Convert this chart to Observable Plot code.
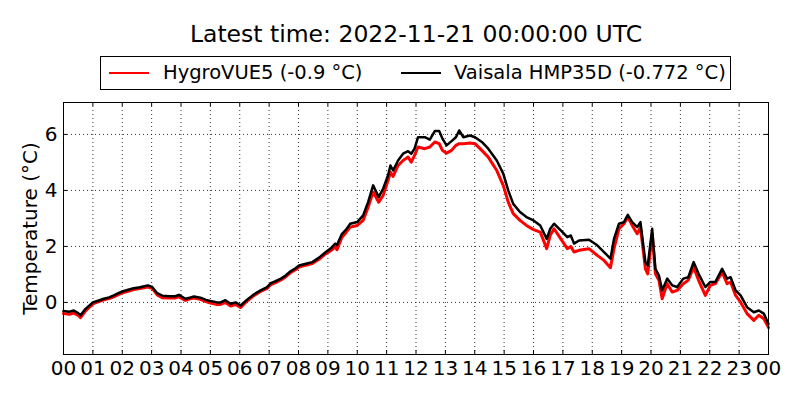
<!DOCTYPE html>
<html>
<head>
<meta charset="utf-8">
<script src="https://cdn.jsdelivr.net/npm/d3@7"></script>
<script src="https://cdn.jsdelivr.net/npm/@observablehq/plot@0.6"></script>
<style>
  html, body { margin: 0; padding: 0; background: #fff; }
  #wrap { position: relative; width: 800px; height: 400px; font-family: "DejaVu Sans", sans-serif; color: #000; overflow: hidden; }
  #title { position: absolute; left: 0; top: 20px; width: 832px; text-align: center; font-size: 23.5px; line-height: 28px; }
  #legend { position: absolute; left: 100px; top: 56px; width: 629px; height: 32px; border: 1px solid #000; box-sizing: content-box; font-size: 19.5px; }
  .entry { position: absolute; top: 0; height: 32px; line-height: 32px; white-space: nowrap; }
  .swatch { position: absolute; top: 15px; width: 40px; height: 0; }
  #chart { position: absolute; left: 0; top: 92px; }
</style>
</head>
<body>
<div id="wrap">
  <div id="title">Latest time: 2022-11-21 00:00:00 UTC</div>
  <div id="legend"></div>
  <div id="chart"></div>
</div>
<script>
// hours since 2022-11-20 00:00 UTC
const hours = [
  0.00,0.20,0.35,0.50,0.58,0.75,1.00,1.20,1.37,1.55,1.71,1.85,2.00,2.20,2.39,2.60,2.87,3.02,3.19,3.36,
  3.60,3.80,3.93,4.15,4.30,4.44,4.66,4.85,5.00,5.20,5.35,5.51,5.69,5.86,6.03,6.25,6.50,6.71,6.93,7.06,
  7.20,7.40,7.55,7.74,7.90,8.02,8.25,8.47,8.70,8.93,9.10,9.25,9.31,9.48,9.62,9.76,10.00,10.20,10.37,10.54,
  10.73,10.88,11.05,11.13,11.22,11.39,11.56,11.73,11.84,11.95,12.07,12.30,12.47,12.64,12.79,12.90,13.04,13.21,13.36,13.47,
  13.61,13.84,14.01,14.24,14.46,14.75,14.97,15.14,15.31,15.54,15.76,16.00,16.23,16.45,16.57,16.70,16.93,17.15,17.27,17.38,
  17.55,17.89,18.17,18.40,18.62,18.74,18.91,19.08,19.21,19.36,19.53,19.64,19.81,19.89,20.04,20.15,20.27,20.38,20.55,20.72,
  20.89,21.10,21.27,21.45,21.62,21.85,22.02,22.19,22.42,22.59,22.71,22.88,23.05,23.27,23.50,23.67,23.84,24.00
];
// Vaisala HMP35D (black)
const vaisala = [
  -0.31,-0.33,-0.29,-0.38,-0.46,-0.23,0.00,0.07,0.13,0.18,0.25,0.32,0.39,0.45,0.51,0.54,0.61,0.55,0.33,0.24,
  0.22,0.22,0.27,0.13,0.17,0.21,0.17,0.09,0.05,0.01,0.00,0.08,-0.05,0.00,-0.11,0.10,0.30,0.43,0.55,0.69,
  0.75,0.85,0.95,1.12,1.22,1.32,1.38,1.44,1.60,1.80,1.93,2.10,2.05,2.45,2.60,2.81,2.87,3.11,3.58,4.18,
  3.76,4.06,4.54,4.89,4.71,5.07,5.31,5.40,5.31,5.49,5.90,5.90,5.81,6.12,6.12,5.85,5.61,5.76,5.90,6.14,
  5.90,5.96,5.90,5.73,5.49,5.07,4.60,4.00,3.52,3.23,3.05,2.93,2.75,2.27,2.63,2.81,2.57,2.33,2.39,2.10,
  2.21,2.24,2.04,1.80,1.56,2.27,2.81,2.87,3.13,2.87,2.69,2.87,1.44,1.32,2.63,1.20,0.96,0.43,0.85,0.61,
  0.55,0.85,0.90,1.44,1.02,0.55,0.73,0.73,1.20,0.85,0.90,0.43,0.25,-0.17,-0.35,-0.29,-0.40,-0.77
];
// HygroVUE5 (red)
const hygro = [
  -0.40,-0.42,-0.38,-0.46,-0.54,-0.30,-0.05,0.03,0.09,0.14,0.20,0.27,0.34,0.40,0.46,0.50,0.55,0.50,0.27,0.17,
  0.16,0.16,0.20,0.07,0.13,0.16,0.11,0.03,-0.02,-0.07,-0.07,0.00,-0.13,-0.07,-0.18,0.05,0.26,0.39,0.50,0.64,
  0.70,0.80,0.90,1.07,1.17,1.26,1.33,1.39,1.54,1.74,1.85,1.98,1.88,2.33,2.50,2.69,2.75,2.93,3.40,3.94,
  3.58,3.82,4.36,4.65,4.50,4.89,5.07,5.19,5.01,5.25,5.55,5.49,5.55,5.73,5.67,5.43,5.33,5.43,5.61,5.67,
  5.67,5.69,5.67,5.43,5.19,4.71,4.18,3.58,3.17,2.93,2.75,2.60,2.51,1.92,2.40,2.63,2.27,1.92,2.00,1.80,
  1.86,1.92,1.68,1.50,1.24,1.92,2.63,2.81,3.05,2.75,2.45,2.69,1.20,1.02,2.45,1.02,0.79,0.13,0.67,0.37,
  0.43,0.67,0.79,1.26,0.79,0.25,0.61,0.67,1.08,0.67,0.73,0.25,0.01,-0.40,-0.64,-0.46,-0.58,-0.90
];
const xTicks = d3.range(0, 25);
const yTicks = [0, 2, 4, 6];
const seriesNames = ["HygroVUE5 (-0.9 °C)", "Vaisala HMP35D (-0.772 °C)"];
const seriesColors = ["#ff0000", "#000000"];
const yLabel = "Temperature (°C)";

const data = hours.map((h, i) => ({h, vaisala: vaisala[i], hygro: hygro[i]}));

// legend
const legend = document.getElementById("legend");
const entryPos = [{sw: 8, tx: 62}, {sw: 300, tx: 353}];
seriesNames.forEach((name, i) => {
  const sw = document.createElement("div");
  sw.className = "swatch";
  sw.style.left = entryPos[i].sw + "px";
  sw.style.borderTop = "2.5px solid " + seriesColors[i];
  legend.appendChild(sw);
  const t = document.createElement("div");
  t.className = "entry";
  t.style.left = entryPos[i].tx + "px";
  t.textContent = name;
  legend.appendChild(t);
});

const W = 800, H = 308, mT = 10, mB = 46, mL = 63, mR = 32;
const fw = W - mL - mR, fh = H - mT - mB;

const chart = Plot.plot({
  width: W, height: H,
  marginTop: mT, marginBottom: mB, marginLeft: mL, marginRight: mR,
  style: {fontFamily: "DejaVu Sans", fontSize: "20px", background: "#fff", color: "#000"},
  x: {domain: [0, 24]},
  y: {domain: [-1.86, 7.14]},
  marks: [
    Plot.ruleX(xTicks.slice(1, -1), {x: d => d, stroke: "#000", strokeWidth: 0.8, strokeDasharray: "1,3"}),
    Plot.ruleY(yTicks, {y: d => d, stroke: "#000", strokeWidth: 0.8, strokeDasharray: "1,3"}),
    Plot.line(data, {x: "h", y: "hygro", stroke: seriesColors[0], strokeWidth: 3, strokeLinejoin: "round"}),
    Plot.line(data, {x: "h", y: "vaisala", stroke: seriesColors[1], strokeWidth: 2.5, strokeLinejoin: "round"}),
    // inward ticks
    Plot.ruleX(xTicks, {x: d => d, stroke: "#000", strokeWidth: 1, insetTop: fh - 4}),
    Plot.ruleX(xTicks, {x: d => d, stroke: "#000", strokeWidth: 1, insetBottom: fh - 4}),
    Plot.ruleY(yTicks, {y: d => d, stroke: "#000", strokeWidth: 1, insetRight: fw - 4}),
    Plot.ruleY(yTicks, {y: d => d, stroke: "#000", strokeWidth: 1, insetLeft: fw - 4}),
    Plot.frame({stroke: "#000", strokeWidth: 1}),
    Plot.axisX(xTicks, {tickSize: 0, tickPadding: 6, fontSize: 20, tickFormat: d => String(d % 24).padStart(2, "0"), label: null}),
    Plot.axisY(yTicks, {tickSize: 0, tickPadding: 6, fontSize: 20, label: null}),
    Plot.text([yLabel], {text: d => d, frameAnchor: "left", textAnchor: "middle", rotate: -90, dx: -33, fontSize: 20, fill: "#000"})
  ]
});
document.getElementById("chart").appendChild(chart);
</script>
</body>
</html>
